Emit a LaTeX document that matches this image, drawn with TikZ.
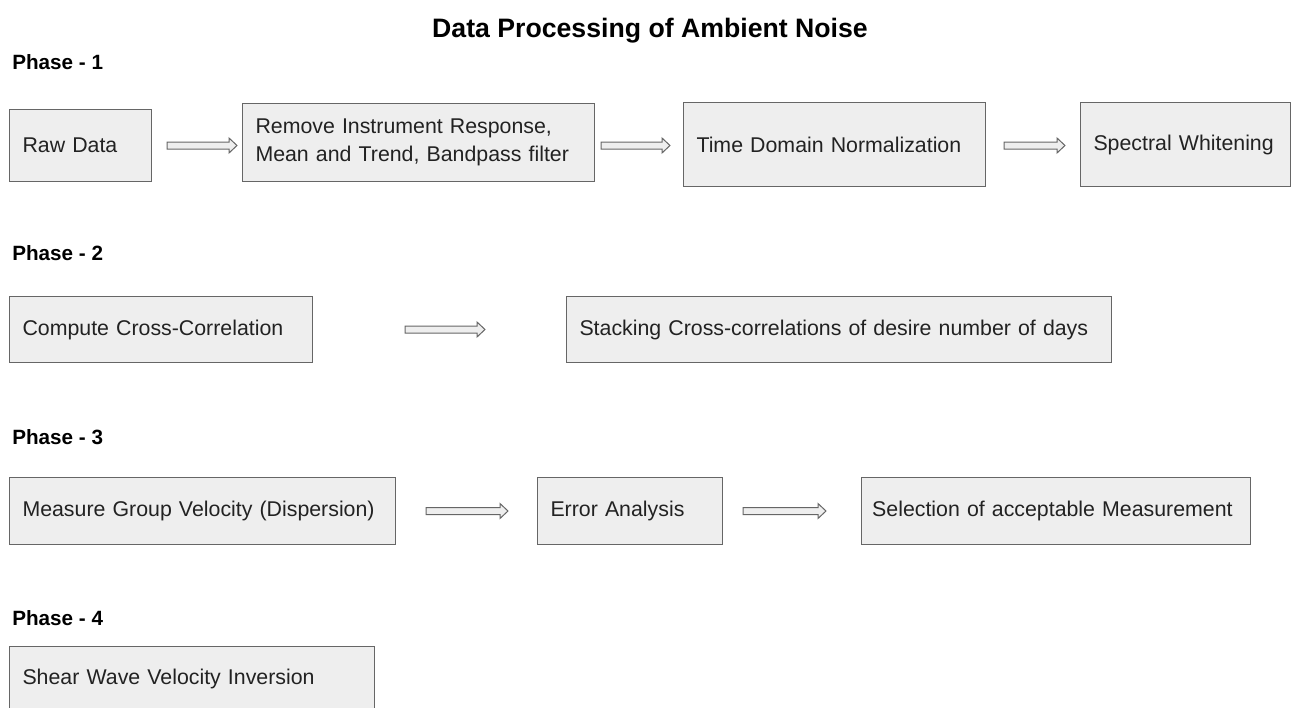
\documentclass[tikz,border=0pt]{standalone}
\usepackage{fontspec}
\setmainfont{Liberation Sans}
\usepackage{xcolor}
\usetikzlibrary{calc}

\definecolor{boxfill}{RGB}{238,238,238}
\definecolor{boxline}{RGB}{102,102,102}
\definecolor{boxtext}{RGB}{34,34,34}

\tikzset{
  stagebox/.style={draw=boxline, fill=boxfill, line width=0.75pt, anchor=north west,
    inner xsep=9.75pt, inner ysep=0pt, align=left, text=boxtext,
    font=\fontsize{16}{21}\selectfont},
  phaselabel/.style={anchor=west, inner sep=0pt, font=\bfseries\fontsize{15.5}{18}\selectfont},
  blockarrow/.style={draw=boxline, fill=boxfill, line width=0.75pt, line join=miter,
    to path={($(\tikztostart)+(0,3.5)$) -- ($(\tikztotarget)+(-8,3.5)$) -- ($(\tikztotarget)+(-8,7.5)$)
      -- (\tikztotarget) -- ($(\tikztotarget)+(-8,-7.5)$) -- ($(\tikztotarget)+(-8,-3.5)$)
      -- ($(\tikztostart)+(0,-3.5)$) -- cycle}},
}

\begin{document}
\begin{tikzpicture}[x=0.75pt,y=0.75pt,yscale=-1,xscale=1]
\path[use as bounding box] (0,0) rectangle (1292,707);
\clip (0,0) rectangle (1292,707);

% Text Node
\node[font=\bfseries\fontsize{20}{24}\selectfont] (title) at (650,31) {Data Processing of Ambient Noise};

%Phase 1
\node[phaselabel] (ph1) at (12,62) {Phase - 1};
\node[stagebox, text width=87pt, minimum height=54pt] (raw) at (9,109) {Raw Data};
\node[stagebox, text width=244.5pt, minimum height=58.5pt] (rem) at (242,103) {Remove Instrument Response,\\Mean and Trend, Bandpass filter};
\node[stagebox, text width=207pt, minimum height=63pt] (norm) at (683,102) {Time Domain Normalization};
\node[stagebox, text width=138pt, minimum height=63pt] (white) at (1080,102) {Spectral Whitening};

\coordinate (a1s) at ($(raw.east)+(15,0)$);
\coordinate (a1e) at ($(a1s -| rem.west)+(-5,0)$);
\coordinate (a2s) at ($(rem.east)+(6,3)$);
\coordinate (a2e) at ($(a2s -| norm.west)+(-13,0)$);
\coordinate (a3s) at ($(norm.east)+(18,1)$);
\coordinate (a3e) at ($(a3s -| white.west)+(-15,0)$);
\draw[blockarrow] (a1s) to (a1e);
\draw[blockarrow] (a2s) to (a2e);
\draw[blockarrow] (a3s) to (a3e);

%Phase 2
\node[phaselabel] (ph2) at (12,253) {Phase - 2};
\node[stagebox, text width=207.75pt, minimum height=49.5pt] (xcorr) at (9,296) {Compute Cross-Correlation};
\node[stagebox, text width=389.25pt, minimum height=49.5pt] (stack) at (566,296) {Stacking Cross-correlations of desire number of days};

\coordinate (b1s) at ($(xcorr.east)+(92,0)$);
\coordinate (b1e) at ($(b1s -| stack.west)+(-81,0)$);
\draw[blockarrow] (b1s) to (b1e);

%Phase 3
\node[phaselabel] (ph3) at (12,437) {Phase - 3};
\node[stagebox, text width=270pt, minimum height=50.25pt] (disp) at (9,477) {Measure Group Velocity (Dispersion)};
\node[stagebox, text width=119.25pt, minimum height=50.25pt] (err) at (537,477) {Error Analysis};
\node[stagebox, inner xsep=8pt, text width=276pt, minimum height=50.25pt] (select) at (861,477) {Selection of acceptable Measurement};

\coordinate (c1s) at ($(disp.east)+(30,0)$);
\coordinate (c1e) at ($(c1s -| err.west)+(-29,0)$);
\coordinate (c2s) at ($(err.east)+(20,0)$);
\coordinate (c2e) at ($(c2s -| select.west)+(-35,0)$);
\draw[blockarrow] (c1s) to (c1e);
\draw[blockarrow] (c2s) to (c2e);

%Phase 4
\node[phaselabel] (ph4) at (12,618) {Phase - 4};
\node[stagebox, text width=254.25pt, minimum height=48pt] (inv) at (9,646) {Shear Wave Velocity Inversion};

\end{tikzpicture}
\end{document}
